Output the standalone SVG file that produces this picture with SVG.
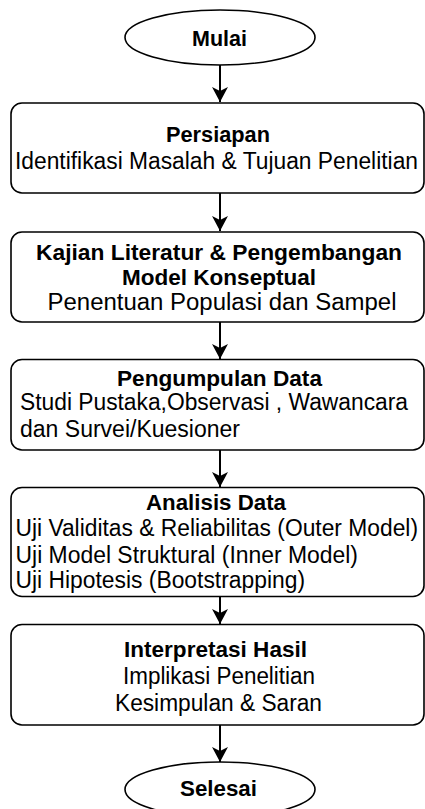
<svg xmlns="http://www.w3.org/2000/svg" width="425" height="809" viewBox="0 0 425 809">
  <style>
    .shape { fill: #ffffff; stroke: #000000; stroke-width: 1.6; }
    .edge { fill: none; stroke: #000000; stroke-width: 2; }
    text { font-family: "Liberation Sans", Arial, sans-serif; fill: #000000; }
    .title { font-size: 22.5px; font-weight: bold; }
    .body { font-size: 23px; }
  </style>
  <defs>
    <marker id="arrow" viewBox="0 0 16 16" refX="15" refY="8" markerWidth="16" markerHeight="16" markerUnits="userSpaceOnUse" orient="auto">
      <path d="M0,0 L15,8 L0,16 L4,8 Z" fill="#000000"/>
    </marker>
  </defs>
  <rect width="425" height="809" fill="#ffffff"/>

  <g id="connectors">
    <line class="edge" x1="220" y1="65" x2="220" y2="102" marker-end="url(#arrow)"/>
    <line class="edge" x1="220" y1="193" x2="220" y2="231" marker-end="url(#arrow)"/>
    <line class="edge" x1="220" y1="322" x2="220" y2="359" marker-end="url(#arrow)"/>
    <line class="edge" x1="220" y1="450" x2="220" y2="487" marker-end="url(#arrow)"/>
    <line class="edge" x1="220" y1="597" x2="220" y2="624" marker-end="url(#arrow)"/>
    <line class="edge" x1="220" y1="725" x2="220" y2="762" marker-end="url(#arrow)"/>
  </g>

  <g id="mulai">
    <ellipse class="shape" cx="220" cy="37.5" rx="95" ry="27.5"/>
    <text class="title" x="192" y="45.5" textLength="55" lengthAdjust="spacingAndGlyphs">Mulai</text>
  </g>

  <g id="persiapan">
    <rect class="shape" x="11" y="103" width="413" height="90" rx="11"/>
    <text class="title" x="166" y="142" textLength="104" lengthAdjust="spacingAndGlyphs">Persiapan</text>
    <text class="body" x="15" y="169" textLength="403" lengthAdjust="spacingAndGlyphs">Identifikasi Masalah &amp; Tujuan Penelitian</text>
  </g>

  <g id="kajian">
    <rect class="shape" x="11" y="232" width="413" height="90" rx="11"/>
    <text class="title" x="36" y="259.5" textLength="366" lengthAdjust="spacingAndGlyphs">Kajian Literatur &amp; Pengembangan</text>
    <text class="title" x="122" y="284.5" textLength="194" lengthAdjust="spacingAndGlyphs">Model Konseptual</text>
    <text class="body" x="47.5" y="310" textLength="349" lengthAdjust="spacingAndGlyphs">Penentuan Populasi dan Sampel</text>
  </g>

  <g id="pengumpulan">
    <rect class="shape" x="11" y="359.5" width="413" height="90.5" rx="11"/>
    <text class="title" x="117" y="385.5" textLength="205" lengthAdjust="spacingAndGlyphs">Pengumpulan Data</text>
    <text class="body" x="20" y="410" textLength="388" lengthAdjust="spacingAndGlyphs">Studi Pustaka,Observasi , Wawancara</text>
    <text class="body" x="20" y="436.5" textLength="220" lengthAdjust="spacingAndGlyphs">dan Survei/Kuesioner</text>
  </g>

  <g id="analisis">
    <rect class="shape" x="11" y="487.5" width="413" height="109" rx="11"/>
    <text class="title" x="146" y="509.5" textLength="140" lengthAdjust="spacingAndGlyphs">Analisis Data</text>
    <text class="body" x="15.5" y="536" textLength="402.5" lengthAdjust="spacingAndGlyphs">Uji Validitas &amp; Reliabilitas (Outer Model)</text>
    <text class="body" x="15.5" y="562.5" textLength="342.5" lengthAdjust="spacingAndGlyphs">Uji Model Struktural (Inner Model)</text>
    <text class="body" x="15.5" y="588" textLength="289.5" lengthAdjust="spacingAndGlyphs">Uji Hipotesis (Bootstrapping)</text>
  </g>

  <g id="interpretasi">
    <rect class="shape" x="11" y="624.5" width="413" height="100.5" rx="11"/>
    <text class="title" x="124" y="657" textLength="183" lengthAdjust="spacingAndGlyphs">Interpretasi Hasil</text>
    <text class="body" x="123" y="683.5" textLength="192" lengthAdjust="spacingAndGlyphs">Implikasi Penelitian</text>
    <text class="body" x="115" y="710.5" textLength="207" lengthAdjust="spacingAndGlyphs">Kesimpulan &amp; Saran</text>
  </g>

  <g id="selesai">
    <ellipse class="shape" cx="220" cy="789.5" rx="95" ry="27.5"/>
    <text class="title" x="180" y="795.5" textLength="77" lengthAdjust="spacingAndGlyphs">Selesai</text>
  </g>
</svg>
